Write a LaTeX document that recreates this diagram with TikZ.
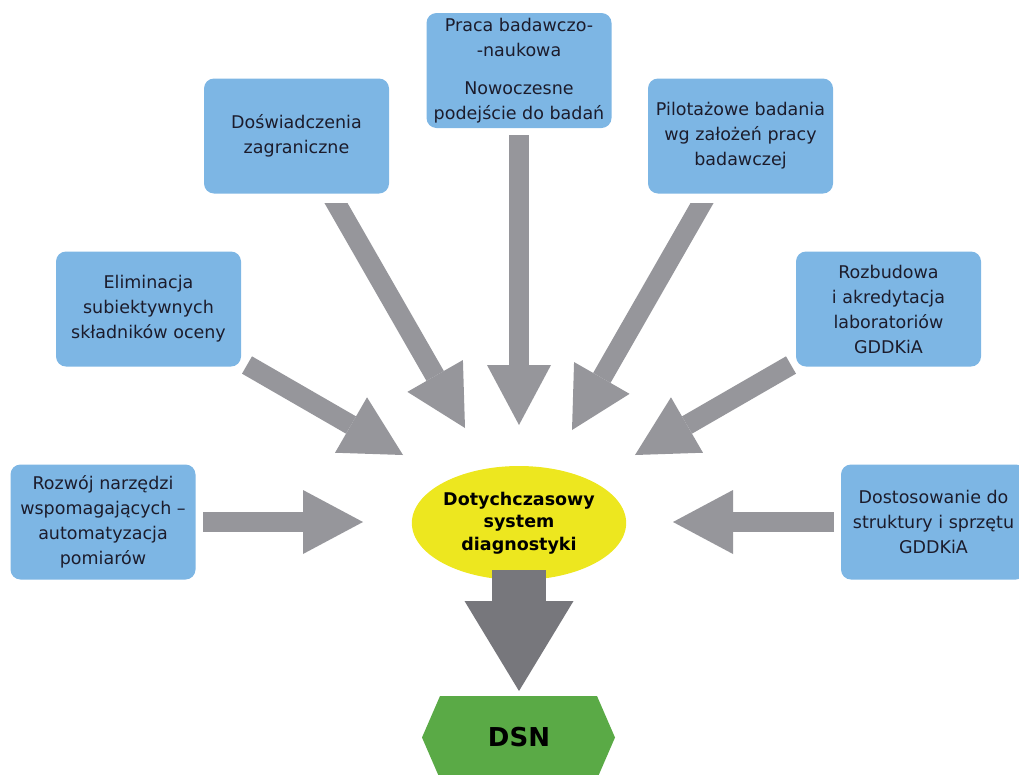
\documentclass[tikz,border=0pt]{standalone}
\usepackage{fontspec}
\setmainfont{DejaVu Sans}
\usetikzlibrary{arrows.meta,shapes.geometric}
\definecolor{boxblue}{HTML}{7DB6E4}
\definecolor{arrowgray}{HTML}{96969B}
\definecolor{mainarrow}{HTML}{77777C}
\definecolor{sysyellow}{HTML}{EDE71F}
\definecolor{dsngreen}{HTML}{5AAA46}
\definecolor{labeltext}{HTML}{1C1C2C}
\begin{document}
\begin{tikzpicture}[x=1pt,y=-1pt,
  infobox/.style={rectangle, rounded corners=10pt, fill=boxblue,
    minimum width=185pt, minimum height=115pt, inner sep=2pt,
    align=center, text=labeltext, font=\fontsize{17.5}{25}\selectfont},
  feed/.style={draw=arrowgray, line width=20pt,
    -{Triangle[width=64pt,length=60pt,line width=0pt]}},
  result/.style={draw=mainarrow, line width=54pt,
    -{Triangle[width=109pt,length=90pt,line width=0pt]}},
]
\useasboundingbox (0,0) rectangle (1019,774);
\clip (0,0) rectangle (1019,774);

% input boxes
\node[infobox] (research) at (519,70.5) {Praca badawczo-\\-naukowa\\[13pt]Nowoczesne\\podejście do badań};
\node[infobox] (abroad) at (296.5,136) {Doświadczenia\\zagraniczne};
\node[infobox] (pilot) at (740.5,136) {Pilotażowe badania\\wg założeń pracy\\badawczej};
\node[infobox] (elim) at (148.5,309) {Eliminacja\\subiektywnych\\składników oceny};
\node[infobox] (labs) at (888.5,309) {Rozbudowa\\i akredytacja\\laboratoriów\\GDDKiA};
\node[infobox] (tools) at (103,522) {Rozwój narzędzi\\wspomagających –\\automatyzacja\\pomiarów};
\node[infobox] (adapt) at (933.5,522) {Dostosowanie do\\struktury i sprzętu\\GDDKiA};

% arrow ends
\coordinate (toolsOut) at (203,522);   \coordinate (toolsIn) at (363,522);
\coordinate (adaptOut) at (834,522);   \coordinate (adaptIn) at (673,522);
\coordinate (researchOut) at (519,135);\coordinate (researchIn) at (519,425);
\coordinate (abroadOut) at (330,192.6);\coordinate (abroadIn) at (465,428);
\coordinate (pilotOut) at (708,192.6); \coordinate (pilotIn) at (572,430);
\coordinate (elimOut) at (247,365);    \coordinate (elimIn) at (403,455);
\coordinate (labsOut) at (791,365);    \coordinate (labsIn) at (635,455);
\coordinate (sysOut) at (519,570);     \coordinate (dsnIn) at (519,691);

% feeding arrows
\draw[feed] (toolsOut) -- (toolsIn);
\draw[feed] (adaptOut) -- (adaptIn);
\draw[feed] (researchOut) -- (researchIn);
\draw[feed] (elimOut) -- (elimIn);
\draw[feed] (labsOut) -- (labsIn);
% the two upper slanted arrows start on a level cut
\begin{scope}
  \clip (0,203) rectangle (1019,774);
  \draw[feed] (abroadOut) -- (abroadIn);
  \draw[feed] (pilotOut) -- (pilotIn);
\end{scope}

% current system
\node[ellipse, fill=sysyellow, minimum width=207pt, minimum height=114pt,
  inner sep=0pt, align=center, text=black,
  font=\bfseries\fontsize{17.5}{22.5}\selectfont] (sys) at (519,523)
  {Dotychczasowy\\system\\diagnostyki};

% result arrow, over the lower rim of the ellipse
\draw[result] (sysOut) -- (dsnIn);

% outcome hexagon
\fill[dsngreen] (440,696) -- (597,696) -- (615,737.5) -- (597,779)
  -- (440,779) -- (422,737.5) -- cycle;
\node[font=\bfseries\fontsize{26}{30}\selectfont, text=black] (dsn) at (519,737.5) {DSN};
\end{tikzpicture}
\end{document}
